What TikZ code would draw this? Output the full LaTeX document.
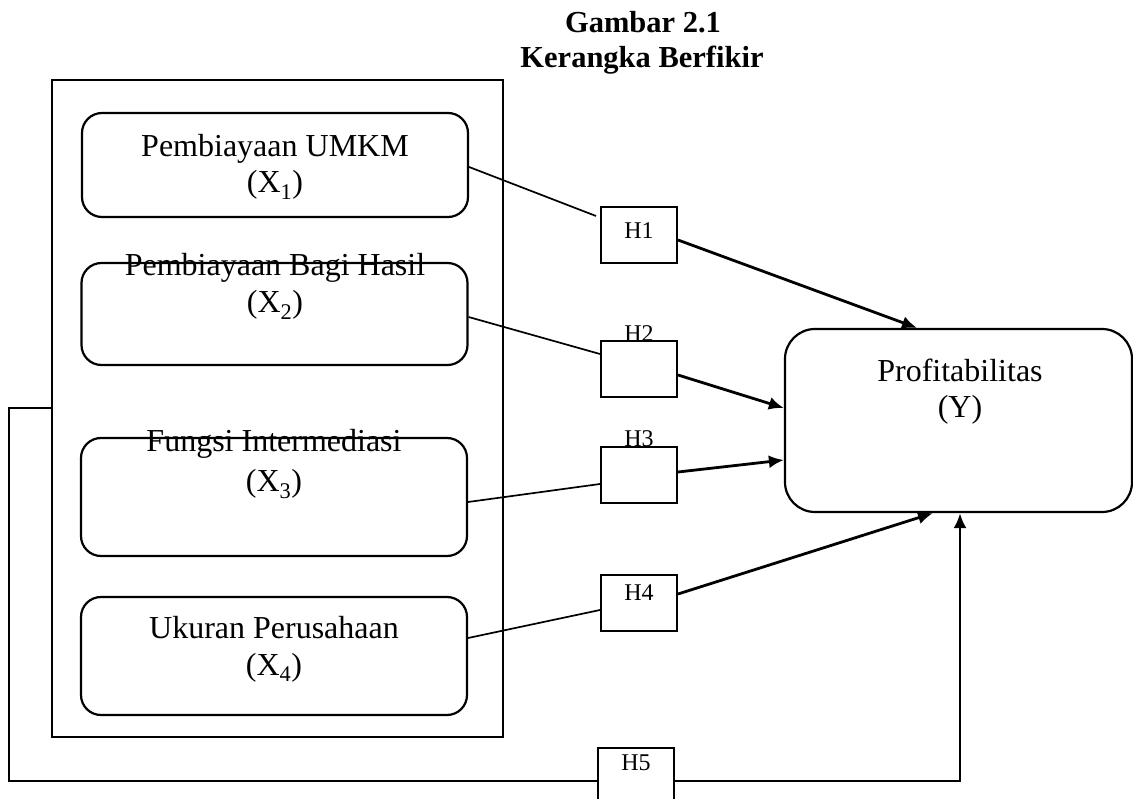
\documentclass[tikz,border=0pt]{standalone}
\usepackage{fontspec}
\setmainfont{Liberation Serif}
\usetikzlibrary{calc,arrows.meta}
\tikzset{
  varbox/.style={draw, line width=2.2pt, rounded corners=20pt, minimum width=#1, inner sep=0pt},
  hbox/.style={draw, line width=2pt, minimum width=76pt, inner sep=0pt},
  lbl/.style={anchor=base, inner sep=0pt, font=\fontsize{32}{36}\selectfont},
  hlbl/.style={anchor=base, inner sep=0pt, font=\fontsize{24}{28}\selectfont},
  ttl/.style={anchor=base, inner sep=0pt, font=\fontsize{30.5}{34}\selectfont\bfseries},
  inline/.style={line width=1.7pt},
  arr/.style={line width=2.8pt, -{Latex[length=15pt,width=13pt]}},
}
\begin{document}
\begin{tikzpicture}[x=1pt,y=-1pt]
\clip (0,0) rectangle (1133,799);
\fill[white] (0,0) rectangle (1133,799);
% title
\node[ttl] (t1) at (643,33) {Gambar 2.1};
\node[ttl] (t2) at (642,68) {Kerangka Berfikir};
% big enclosing rectangle
\node[draw, line width=1.5pt, minimum width=451pt, minimum height=657pt, inner sep=0pt] (big) at (277.5,408.5) {};
% variable boxes
\node[varbox=386pt, minimum height=104pt] (x1) at (275,165) {};
\node[varbox=386pt, minimum height=102pt] (x2) at (274.5,314) {};
\node[varbox=386pt, minimum height=118pt] (x3) at (274,497) {};
\node[varbox=386pt, minimum height=118pt] (x4) at (274,656) {};
\node[varbox=347pt, minimum height=183pt, rounded corners=30pt] (y) at (958.5,420.5) {};
% variable labels
\node[lbl] (x1a) at (275,157) {Pembiayaan UMKM};
\node[lbl] (x1b) at (275,193) {(X\textsubscript{1})};
\node[lbl] (x2a) at (275,276) {Pembiayaan Bagi Hasil};
\node[lbl] (x2b) at (275,313) {(X\textsubscript{2})};
\node[lbl] (x3a) at (274,452) {Fungsi Intermediasi};
\node[lbl] (x3b) at (274,492) {(X\textsubscript{3})};
\node[lbl] (x4a) at (274,638) {Ukuran Perusahaan};
\node[lbl] (x4b) at (274,675) {(X\textsubscript{4})};
\node[lbl] (ya) at (960,382) {Profitabilitas};
\node[lbl] (yb) at (960,418) {(Y)};
% hypothesis boxes
\node[hbox, minimum height=56pt] (h1) at (639,235) {};
\node[hbox, minimum height=56pt] (h2) at (639,369) {};
\node[hbox, minimum height=55pt] (h3) at (639,475) {};
\node[hbox, minimum height=56pt] (h4) at (639,603) {};
\node[hbox, minimum height=56pt] (h5) at (636,776) {};
\node[hlbl] (h1l) at (639,239) {H1};
\node[hlbl] (h2l) at (639,342) {H2};
\node[hlbl] (h3l) at (639,447) {H3};
\node[hlbl] (h4l) at (639,600) {H4};
\node[hlbl] (h5l) at (636,770) {H5};
% inputs to hypothesis boxes
\draw[inline] ($(x1.east)+(0,2)$) -- ($(h1.west)+(-4,-19)$);
\draw[inline] ($(x2.east)+(0,3)$) -- ($(h2.west)+(0,-15)$);
\draw[inline] ($(x3.east)+(0,5)$) -- ($(h3.west)+(0,9)$);
\draw[inline] ($(x4.east)+(0,-18)$) -- ($(h4.west)+(0,7)$);
% arrows to Y
\draw[arr] ($(h1.east)+(0,5)$) -- ($(y.north)+(-41.5,0)$);
\draw[arr] ($(h2.east)+(0,6)$) -- ($(y.west)+(0,-12.5)$);
\draw[arr] ($(h3.east)+(0,-3)$) -- ($(y.west)+(0,39.5)$);
\draw[arr] ($(h4.east)+(0,-9)$) -- ($(y.south)+(-25.5,0)$);
% simultaneous path H5
\coordinate (fb) at ($(big.west)+(-42,0)$);
\draw[line width=2pt] (big.west) -- (fb) |- ($(h5.west)+(0,5)$);
\draw[arr] ($(h5.east)+(0,5)$) -| ($(y.south)+(1.5,0)$);
\end{tikzpicture}
\end{document}
